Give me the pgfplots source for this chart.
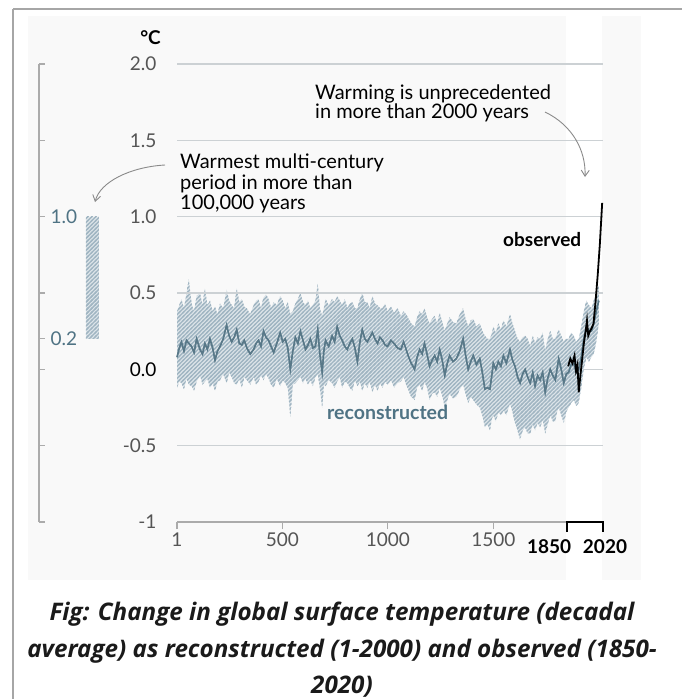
\documentclass[border=0pt]{standalone}
\usepackage{pgfplots}
\pgfplotsset{compat=1.18}
\usepackage{pgfplotstable}
\usetikzlibrary{patterns,arrows.meta}
\usepackage{fontspec}
\setmainfont{Lato}
\newfontfamily\capfont{Open Sans}
\definecolor{bgc}{HTML}{F9F9F9}
\definecolor{framec}{HTML}{A6A6A6}
\definecolor{gridc}{HTML}{CCD1D4}
\definecolor{axgray}{HTML}{ABABAB}
\definecolor{tickc}{HTML}{555555}
\definecolor{tealc}{HTML}{4F7384}
\definecolor{meanc}{HTML}{587888}
\definecolor{bandbg}{HTML}{DCE4E9}
\definecolor{hatchc}{HTML}{A0B5C2}
\definecolor{arrowc}{HTML}{8A8A8A}
\definecolor{capc}{HTML}{1A1A1A}
\newcommand\lab{\fontsize{19bp}{22bp}\selectfont}
\newcommand\ann{\fontsize{20bp}{22bp}\selectfont}
\newcommand\capsz{\fontsize{24.2bp}{28bp}\selectfont}

\pgfdeclarepatternformonly{hatch}{\pgfqpoint{-1pt}{-1pt}}{\pgfqpoint{5pt}{5pt}}{\pgfqpoint{4pt}{4pt}}{%
  \pgfsetlinewidth{1.3pt}%
  \pgfpathmoveto{\pgfqpoint{-1pt}{-1pt}}%
  \pgfpathlineto{\pgfqpoint{5pt}{5pt}}%
  \pgfusepath{stroke}}

\pgfplotstableread{
year m up lo
1 0.08 0.38 -0.12
12 0.14 0.42 -0.08
22 0.18 0.46 -0.09
34 0.12 0.40 -0.13
46 0.19 0.50 -0.06
57 0.17 0.59 -0.10
70 0.15 0.43 -0.11
82 0.11 0.38 -0.14
94 0.20 0.48 -0.08
110 0.13 0.50 -0.04
122 0.10 0.42 -0.10
133 0.17 0.53 -0.08
145 0.13 0.42 -0.06
157 0.20 0.45 -0.12
170 0.14 0.38 -0.09
181 0.06 0.41 -0.14
193 0.12 0.36 -0.08
205 0.15 0.43 -0.07
220 0.20 0.40 -0.03
236 0.29 0.52 -0.09
248 0.22 0.45 -0.02
260 0.18 0.42 -0.05
272 0.21 0.40 -0.09
284 0.26 0.53 -0.10
296 0.17 0.44 -0.06
308 0.16 0.46 -0.12
320 0.19 0.41 -0.05
332 0.14 0.40 -0.07
348 0.10 0.36 -0.10
364 0.13 0.42 -0.05
376 0.17 0.45 -0.10
387 0.19 0.46 -0.08
399 0.15 0.40 -0.04
411 0.25 0.47 -0.07
423 0.21 0.49 -0.03
435 0.19 0.46 -0.06
447 0.15 0.40 -0.10
459 0.11 0.44 -0.12
474 0.17 0.42 -0.06
490 0.24 0.48 -0.11
502 0.18 0.45 -0.07
514 0.20 0.40 -0.09
526 0.14 0.44 -0.12
538 0.00 0.36 -0.31
550 0.12 0.38 -0.10
562 0.21 0.43 -0.09
574 0.17 0.46 -0.07
586 0.25 0.50 -0.05
598 0.19 0.44 -0.09
610 0.13 0.42 -0.06
622 0.16 0.45 -0.10
633 0.20 0.40 -0.07
645 0.14 0.42 -0.11
657 0.15 0.45 -0.05
668 0.26 0.56 -0.03
678 0.10 0.40 -0.12
689 -0.02 0.35 -0.25
697 0.12 0.40 -0.10
705 0.19 0.46 -0.11
720 0.15 0.42 -0.07
736 0.22 0.46 -0.09
748 0.18 0.44 -0.12
760 0.28 0.48 -0.08
772 0.22 0.45 -0.05
784 0.19 0.42 -0.12
796 0.15 0.46 -0.08
808 0.13 0.40 -0.09
820 0.17 0.43 -0.12
832 0.20 0.44 -0.14
844 0.14 0.40 -0.07
856 0.05 0.40 -0.11
868 0.18 0.46 -0.08
879 0.26 0.50 -0.14
891 0.20 0.44 -0.09
903 0.18 0.44 -0.12
915 0.21 0.40 -0.08
927 0.24 0.48 -0.15
939 0.20 0.43 -0.10
951 0.17 0.42 -0.14
963 0.21 0.40 -0.09
975 0.19 0.40 -0.12
987 0.16 0.43 -0.08
999 0.15 0.38 -0.10
1015 0.19 0.41 -0.07
1030 0.17 0.37 -0.12
1046 0.14 0.40 -0.09
1062 0.13 0.35 -0.08
1075 0.18 0.38 -0.05
1087 0.13 0.36 -0.10
1099 0.08 0.33 -0.14
1111 0.04 0.30 -0.18
1127 0.00 0.28 -0.20
1139 0.08 0.34 -0.12
1151 0.13 0.38 -0.10
1163 0.10 0.36 -0.14
1174 0.17 0.40 -0.08
1186 0.10 0.34 -0.12
1198 0.02 0.30 -0.20
1210 0.06 0.33 -0.16
1222 0.09 0.35 -0.15
1234 0.05 0.30 -0.18
1246 0.13 0.37 -0.12
1258 0.06 0.31 -0.17
1270 -0.04 0.25 -0.25
1282 0.04 0.30 -0.20
1293 0.09 0.34 -0.16
1309 0.05 0.31 -0.19
1325 0.07 0.30 -0.18
1341 0.12 0.36 -0.13
1357 0.20 0.40 -0.10
1369 0.09 0.33 -0.16
1381 0.00 0.28 -0.22
1393 0.05 0.32 -0.18
1405 0.09 0.33 -0.20
1420 0.03 0.28 -0.23
1436 0.07 0.30 -0.25
1448 -0.02 0.25 -0.30
1460 -0.13 0.22 -0.38
1472 -0.12 0.20 -0.36
1484 -0.13 0.20 -0.40
1492 -0.05 0.23 -0.33
1500 0.04 0.28 -0.30
1512 0.00 0.24 -0.34
1524 0.05 0.30 -0.28
1536 0.02 0.26 -0.30
1548 0.09 0.32 -0.27
1562 0.04 0.28 -0.30
1579 0.13 0.36 -0.22
1591 0.06 0.30 -0.28
1603 0.02 0.25 -0.35
1615 -0.05 0.20 -0.40
1627 -0.09 0.18 -0.46
1639 -0.03 0.21 -0.40
1651 0.00 0.22 -0.38
1663 -0.05 0.20 -0.42
1675 -0.09 0.15 -0.42
1687 -0.02 0.22 -0.36
1698 -0.11 0.17 -0.40
1710 -0.04 0.21 -0.35
1722 -0.07 0.20 -0.38
1734 -0.02 0.24 -0.33
1746 -0.15 0.12 -0.42
1758 -0.06 0.20 -0.36
1770 0.00 0.25 -0.30
1782 -0.04 0.20 -0.34
1794 -0.07 0.20 -0.34
1802 0.00 0.23 -0.28
1810 0.07 0.26 -0.25
1822 0.00 0.22 -0.30
1834 -0.09 0.18 -0.35
1846 -0.03 0.20 -0.28
1857 -0.02 0.20 -0.25
1869 0.03 0.24 -0.22
1881 0.04 0.22 -0.20
1893 -0.02 0.18 -0.24
1905 0.00 0.20 -0.22
1917 0.08 0.28 -0.12
1929 0.20 0.38 0.00
1941 0.28 0.45 0.08
1953 0.25 0.42 0.05
1965 0.25 0.40 0.08
1976 0.30 0.45 0.10
1988 0.38 0.50 0.18
2000 0.45 0.55 0.30
}\recon

\pgfplotstableread{
year t
1855 0.02
1865 0.07
1875 0.04
1885 0.09
1892 -0.01
1899 0.03
1905 -0.15
1912 -0.05
1920 0.05
1930 0.18
1938 0.25
1944 0.32
1950 0.22
1958 0.25
1966 0.27
1975 0.30
1985 0.45
1995 0.62
2005 0.82
2016 1.09
}\obs

\pgfplotstableread{
x lo up
0.77 0.2 1.0
0.98 0.2 1.0
}\warm

\begin{document}
\begin{tikzpicture}
\begin{scope}[x=1bp,y=1bp]
\useasboundingbox (0,0) rectangle (682,-699);
\fill[white] (0,0) rectangle (682,-699);
\fill[bgc] (28,-16) rectangle (641,-580);
\fill[white] (566,-16) rectangle (602,-580);
\draw[framec, line width=2.5] (13,-9) -- (682,-9);
\draw[framec, line width=2.5] (13,-9) -- (13,-699);
\foreach \gy in {64,140.33,216.67,293,369.33,445.67}{
  \draw[gridc, line width=1.5] (177,-\gy) -- (603,-\gy);
}
\draw[axgray, line width=1.4] (177,-522) -- (603,-522);
\end{scope}

% left scale axis
\begin{axis}[at={(39bp,-522bp)}, anchor=south west, scale only axis,
  width=61bp, height=458bp, xmin=0, xmax=1, ymin=-1, ymax=2,
  axis x line=none, axis y line*=left,
  y axis line style={draw=axgray, line width=1.2bp},
  ytick={-1,-0.5,0,0.2,0.5,1,1.5,2}, yticklabels={,,,0.2,,1.0,,},
  tick align=inside, major tick length=6bp,
  ytick style={draw=axgray, line width=1.2bp},
  yticklabel style={anchor=west, xshift=8bp, text=tealc, font=\lab},
  clip=false]
\addplot[draw=none, stack plots=y] table[x=x,y=lo]{\warm};
\addplot[draw=none, fill=bandbg, stack plots=y, postaction={pattern=hatch, pattern color=hatchc}] table[x=x,y expr=\thisrow{up}-\thisrow{lo}]{\warm} \closedcycle;
\end{axis}

% main axis
\begin{axis}[at={(177bp,-522bp)}, anchor=south west, scale only axis,
  width=426bp, height=458bp, xmin=1, xmax=2020, ymin=-1, ymax=2,
  axis x line*=bottom, axis y line*=left,
  y axis line style={draw=none},
  x axis line style={draw=none},
  ytick={-1,-0.5,0,0.5,1,1.5,2},
  yticklabels={-1,-0.5,\textcolor{black}{0.0},0.5,1.0,1.5,2.0},
  ytick style={draw=none},
  xtick={1,500,1000,1500}, xticklabels={1,500,1000,1500},
  xtick style={draw=axgray, line width=1.3bp},
  tick align=outside, major tick length=7bp,
  xticklabel style={text=tickc, font=\lab},
  yticklabel style={text=tickc, font=\lab, xshift=-10bp},
  clip=false]
\addplot[draw=none, stack plots=y] table[x=year,y=lo]{\recon};
\addplot[draw=none, fill=bandbg, stack plots=y, postaction={pattern=hatch, pattern color=hatchc}] table[x=year,y expr=\thisrow{up}-\thisrow{lo}]{\recon} \closedcycle;
\addplot[meanc, line width=1.4bp] table[x=year,y=m]{\recon};
\end{axis}

% grid lines that lie clear of the band, drawn over the axis area
\begin{scope}[x=1bp,y=1bp]
\foreach \gy in {140.33,216.67,445.67}{
  \draw[gridc, line width=1.5] (177,-\gy) -- (603,-\gy);
}
\draw[gridc, line width=1.5] (177,-293) -- (603,-293);
\draw[gridc, line width=1.5] (586,-369.33) -- (603,-369.33);
\draw[axgray, line width=1.4] (177,-522) -- (566,-522);
\end{scope}

% observed series and the 1850-2020 bracket on top
\begin{axis}[at={(177bp,-522bp)}, anchor=south west, scale only axis,
  width=426bp, height=458bp, xmin=1, xmax=2020, ymin=-1, ymax=2,
  hide axis, clip=false]
\addplot[meanc, line width=1.4bp] table[x=year,y=m]{\recon};
\addplot[black, line width=1.8bp] table[x=year,y=t]{\obs};
\draw[black, line width=1.5bp] ([yshift=-10bp]axis cs:1850,-1) -- (axis cs:1850,-1) -- (axis cs:2020,-1) -- ([yshift=-10bp]axis cs:2020,-1);
\node[font=\lab\bfseries, anchor=base, text=black] at ([xshift=-18bp,yshift=-31bp]axis cs:1850,-1) {1850};
\node[font=\lab\bfseries, anchor=base, text=black] at ([xshift=2bp,yshift=-31bp]axis cs:2020,-1) {2020};
\end{axis}

\begin{scope}[x=1bp,y=1bp]
\node[font=\lab\bfseries, anchor=base east, inner sep=0] at (161,-45) {°C};
\node[font=\ann, anchor=base west, inner sep=0] at (315,-100) {Warming is unprecedented};
\node[font=\ann, anchor=base west, inner sep=0] at (315,-119) {in more than 2000 years};
\node[font=\ann, anchor=base west, inner sep=0] at (180,-168) {Warmest multi-century};
\node[font=\ann, anchor=base west, inner sep=0] at (180,-189) {period in more than};
\node[font=\ann, anchor=base west, inner sep=0] at (180,-209) {100,000 years};
\node[font=\lab\bfseries, anchor=base west, inner sep=0] at (503,-246) {observed};
\node[font=\fontsize{19.5bp}{22bp}\selectfont\bfseries, anchor=base west, inner sep=0, text=tealc] at (327,-419) {reconstructed};
\draw[arrowc, line width=0.9, -{Straight Barb[length=6,width=8]}] (545,-112) .. controls (572,-125) and (586,-150) .. (585,-177);
\draw[arrowc, line width=0.9, -{Straight Barb[length=6,width=8]}] (165,-165) .. controls (130,-167) and (100,-182) .. (95,-202);
\node[font=\capfont\capsz\bfseries\itshape, text=capc, anchor=base, inner sep=0] at (342,-620) {Fig: Change in global surface temperature (decadal};
\node[font=\capfont\capsz\bfseries\itshape, text=capc, anchor=base, inner sep=0] at (342,-657) {average) as reconstructed (1-2000) and observed (1850-};
\node[font=\capfont\capsz\bfseries\itshape, text=capc, anchor=base, inner sep=0] at (342,-693) {2020)};
\end{scope}
\end{tikzpicture}
\end{document}
